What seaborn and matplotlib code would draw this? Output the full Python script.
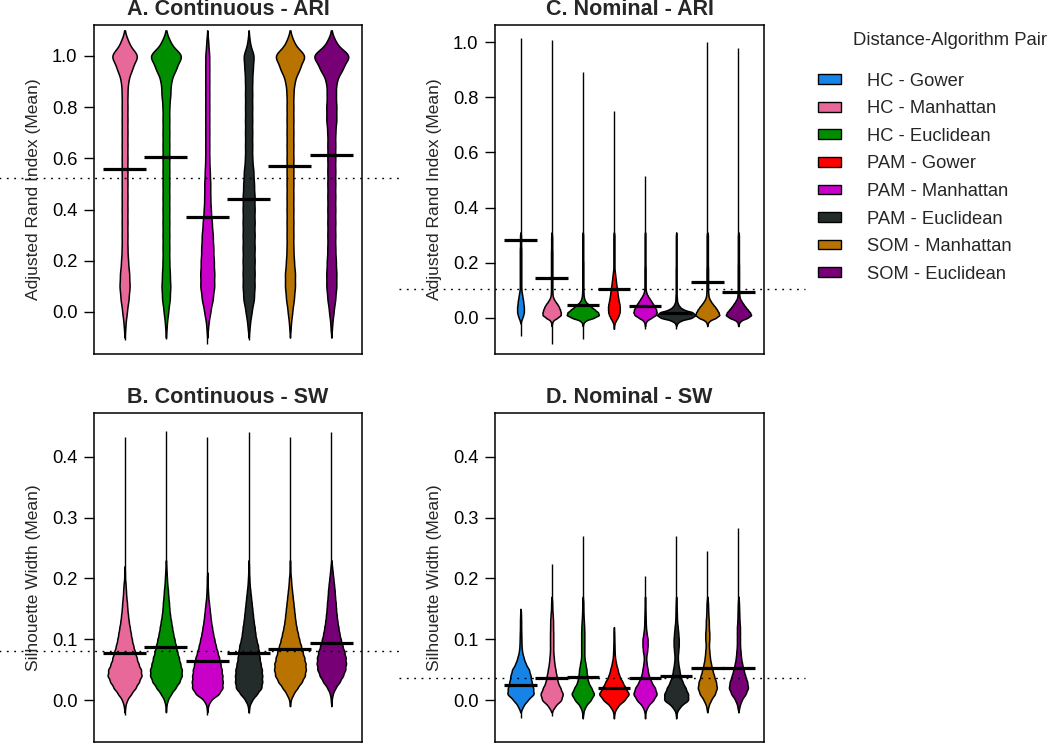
import numpy as np
import pandas as pd
import matplotlib
matplotlib.use("Agg")
import matplotlib.pyplot as plt
from matplotlib.patches import Patch
import seaborn as sns

# distance-algorithm pairs and their fill colours
PAIRS = ["HC - Gower", "HC - Manhattan", "HC - Euclidean", "PAM - Gower",
         "PAM - Manhattan", "PAM - Euclidean", "SOM - Manhattan", "SOM - Euclidean"]
CONT_PAIRS = ["HC - Manhattan", "HC - Euclidean", "PAM - Manhattan",
              "PAM - Euclidean", "SOM - Manhattan", "SOM - Euclidean"]
COLORS = {"HC - Gower": "#1683E6", "HC - Manhattan": "#E8689A", "HC - Euclidean": "#008E00",
          "PAM - Gower": "#FF0000", "PAM - Manhattan": "#C800C8", "PAM - Euclidean": "#232B2B",
          "SOM - Manhattan": "#B87300", "SOM - Euclidean": "#780076"}

# A. Continuous - ARI : value levels and how many results sit at each level (one row per pair)
A_LEVELS = [-0.10, -0.05, 0.00, 0.05, 0.10, 0.15, 0.20, 0.25, 0.30, 0.35, 0.40, 0.45,
            0.50, 0.55, 0.60, 0.65, 0.70, 0.75, 0.80, 0.85, 0.90, 0.95, 1.00, 1.05]
A_COUNTS = [
    [0, 3, 8, 14, 18, 16, 12, 10, 10, 10, 10, 10, 10, 10, 10, 10, 10, 10, 10, 10, 12, 26, 48, 14],
    [0, 3, 8, 14, 16, 14, 12, 12, 12, 12, 12, 12, 12, 12, 12, 12, 12, 12, 12, 16, 18, 36, 60, 16],
    [0, 4, 12, 22, 28, 28, 26, 24, 22, 18, 14, 12, 12, 10, 8, 8, 8, 8, 8, 8, 8, 8, 8, 4],
    [0, 4, 10, 18, 20, 20, 20, 20, 20, 20, 20, 20, 18, 16, 12, 12, 12, 12, 12, 12, 12, 14, 18, 4],
    [0, 3, 8, 14, 18, 18, 14, 12, 12, 12, 12, 12, 12, 12, 12, 12, 12, 12, 12, 12, 16, 34, 56, 14],
    [0, 3, 8, 14, 18, 18, 16, 14, 14, 14, 14, 14, 14, 14, 14, 14, 14, 18, 18, 16, 18, 40, 68, 16],
]
A_PEAK = [0.59, 0.72, 0.34, 0.29, 0.68, 0.82]   # widest point of each violin
A_MEANS = [0.559, 0.604, 0.370, 0.443, 0.571, 0.612]
A_LO = [-0.111, -0.105, -0.124, -0.108, -0.078, -0.078]
A_HI = [1.068, 1.068, 1.070, 1.070, 1.068, 1.068]
A_REF = 0.525

# B. Continuous - SW
B_LEVELS = [-0.01, 0.00, 0.01, 0.02, 0.03, 0.04, 0.05, 0.06, 0.07, 0.08, 0.09, 0.10,
            0.11, 0.12, 0.13, 0.14, 0.15, 0.16, 0.17, 0.18, 0.19, 0.20, 0.21, 0.22]
B_COUNTS = [
    [2, 7, 19, 32, 42, 50, 48, 40, 35, 30, 25, 21, 18, 15, 12, 10, 8, 7, 5, 4, 3, 1, 1, 0],
    [1, 5, 15, 28, 40, 47, 47, 42, 38, 33, 29, 25, 21, 18, 15, 12, 10, 9, 7, 6, 4, 3, 2, 1],
    [2, 10, 35, 46, 46, 45, 43, 39, 35, 30, 25, 21, 17, 14, 11, 9, 7, 5, 3, 2, 1, 1, 0, 0],
    [2, 10, 25, 39, 41, 41, 40, 36, 33, 31, 28, 23, 20, 18, 15, 13, 11, 9, 7, 5, 3, 2, 1, 1],
    [0, 2, 10, 22, 35, 44, 47, 46, 42, 37, 32, 27, 23, 19, 16, 14, 12, 10, 8, 6, 4, 3, 1, 1],
    [0, 1, 4, 12, 25, 35, 42, 44, 43, 39, 33, 28, 24, 21, 18, 16, 14, 13, 11, 10, 8, 6, 4, 2],
]
B_PEAK = [0.82, 0.77, 0.75, 0.66, 0.77, 0.71]
B_MEANS = [0.077, 0.088, 0.064, 0.077, 0.084, 0.094]
B_LO = [-0.025, -0.018, -0.025, -0.021, -0.010, -0.005]
B_HI = [0.433, 0.443, 0.432, 0.441, 0.432, 0.441]
B_REF = 0.0805

# C. Nominal - ARI
C_LEVELS = [-0.03, -0.02, -0.01, 0.00, 0.01, 0.02, 0.03, 0.04, 0.05, 0.06, 0.07, 0.08,
            0.09, 0.10, 0.11, 0.12, 0.13, 0.14, 0.15, 0.16, 0.17, 0.18, 0.19, 0.20,
            0.21, 0.22, 0.23, 0.24, 0.25, 0.26, 0.27, 0.28, 0.29, 0.30]
C_COUNTS = [
    [0, 0, 3, 8, 12, 15, 15, 15, 13, 12, 10, 8, 6, 4, 3, 3, 3, 3, 3, 3, 3,
     3, 3, 3, 3, 3, 3, 3, 3, 2, 2, 2, 2, 2],
    [0, 2, 8, 35, 58, 57, 52, 45, 35, 22, 12, 6, 5, 4, 4, 4, 4, 4, 4, 4, 4,
     4, 4, 4, 4, 4, 4, 4, 3, 3, 3, 3, 3, 2],
    [0, 3, 15, 65, 97, 90, 70, 50, 30, 15, 8, 5, 4, 3, 3, 3, 3, 3, 3, 3, 3,
     3, 3, 3, 2, 2, 2, 2, 2, 2, 2, 2, 2, 2],
    [1, 4, 12, 22, 30, 35, 36, 36, 34, 30, 27, 24, 22, 20, 18, 15, 13, 11, 9, 7, 5,
     3, 3, 3, 3, 3, 3, 3, 3, 3, 3, 3, 3, 3],
    [0, 2, 10, 35, 60, 66, 62, 55, 45, 35, 25, 15, 8, 4, 3, 3, 3, 3, 3, 3, 3,
     3, 2, 2, 2, 2, 2, 2, 2, 2, 2, 2, 2, 2],
    [0, 5, 25, 90, 112, 95, 40, 20, 10, 5, 4, 3, 2, 2, 2, 2, 2, 2, 2, 2, 2,
     2, 1, 1, 1, 1, 1, 1, 1, 1, 1, 1, 1, 1],
    [0, 2, 12, 45, 64, 58, 50, 40, 28, 18, 10, 6, 5, 4, 4, 4, 4, 4, 4, 4, 4,
     4, 3, 3, 3, 3, 3, 3, 3, 3, 3, 3, 3, 3],
    [0, 3, 15, 60, 85, 75, 60, 45, 32, 20, 10, 6, 5, 4, 4, 4, 4, 4, 4, 4, 4,
     4, 4, 3, 3, 3, 3, 3, 3, 3, 3, 3, 3, 3],
]
C_PEAK = [0.22, 0.59, 1.03, 0.38, 0.75, 1.23, 0.77, 0.81]
C_MEANS = [0.283, 0.143, 0.046, 0.103, 0.044, 0.016, 0.131, 0.094]
C_LO = [-0.067, -0.094, -0.075, -0.030, -0.039, -0.041, -0.027, -0.030]
C_HI = [1.015, 1.006, 0.893, 0.751, 0.516, 0.301, 1.002, 0.978]
C_REF = 0.106

# D. Nominal - SW
D_LEVELS = [-0.02, -0.01, 0.00, 0.01, 0.02, 0.03, 0.04, 0.05, 0.06, 0.07, 0.08, 0.09,
            0.10, 0.11, 0.12, 0.13, 0.14, 0.15, 0.16]
D_COUNTS = [
    [0, 15, 42, 81, 75, 66, 60, 51, 30, 18, 9, 6, 5, 4, 3, 3, 2, 0, 0],
    [0, 18, 54, 63, 48, 33, 27, 21, 15, 12, 9, 9, 9, 9, 8, 8, 6, 3, 3],
    [3, 15, 45, 66, 48, 30, 24, 21, 15, 9, 9, 9, 9, 9, 8, 6, 4, 3, 3],
    [3, 21, 60, 87, 66, 48, 30, 21, 12, 6, 4, 3, 2, 1, 0, 0, 0, 0, 0],
    [2, 15, 48, 69, 57, 36, 21, 15, 9, 6, 12, 15, 15, 9, 5, 4, 3, 2, 1],
    [3, 24, 72, 69, 54, 36, 24, 18, 12, 9, 12, 15, 15, 12, 9, 5, 4, 3, 2],
    [0, 6, 21, 45, 57, 51, 39, 30, 21, 15, 12, 9, 12, 12, 9, 9, 6, 5, 4],
    [0, 6, 18, 42, 57, 51, 39, 30, 21, 15, 12, 9, 9, 9, 9, 6, 5, 4, 3],
]
D_PEAK = [0.84, 0.71, 0.71, 0.94, 0.74, 0.77, 0.61, 0.61]
D_MEANS = [0.025, 0.036, 0.038, 0.020, 0.036, 0.039, 0.053, 0.053]
D_LO = [-0.029, -0.026, -0.025, -0.019, -0.022, -0.022, -0.018, -0.017]
D_HI = [0.147, 0.223, 0.270, 0.114, 0.204, 0.270, 0.245, 0.283]
D_REF = 0.037

ARI_TICKS = [0.0, 0.2, 0.4, 0.6, 0.8, 1.0]
SW_TICKS = [0.0, 0.1, 0.2, 0.3, 0.4]


def build_frame(groups, levels, counts):
    parts = []
    for name, row in zip(groups, counts):
        parts.append(pd.DataFrame({"pair": name, "value": np.repeat(levels, row)}))
    return pd.concat(parts, ignore_index=True)


def draw_panel(ax, title, ylabel, groups, levels, counts, peaks, means, lo, hi, ref,
               ylim, yticks, bw):
    df = build_frame(groups, levels, counts)
    pos = np.arange(len(groups))

    # range line behind each violin
    ax.vlines(pos, lo, hi, color="black", lw=1.0, zorder=0.5)

    # one violin per call so each keeps its own peak width
    for name, peak in zip(groups, peaks):
        sns.violinplot(data=df[df["pair"] == name], x="pair", y="value", order=groups,
                       color=COLORS[name], saturation=1, density_norm="width",
                       inner=None, cut=2, gridsize=300,
                       bw_method=lambda k, b=bw: b / np.std(k.dataset, ddof=1),
                       width=peak, linewidth=1.1, linecolor="black", ax=ax)

    # mean bars and overall reference line
    ax.hlines(means, pos - 0.52, pos + 0.52, color="black", lw=2.3, zorder=5)
    ax.axhline(ref, xmin=-0.355, xmax=1.153, color="black", lw=1.0,
               ls=(0, (1.3, 4)), clip_on=False, zorder=6)

    n = len(groups)
    pad = 0.04 * n
    ax.set_xlim(-0.5 - pad, n - 0.5 + pad)
    ax.set_ylim(*ylim)
    ax.set_yticks(yticks)
    ax.set_yticklabels([f"{t:.1f}" for t in yticks])
    ax.tick_params(axis="y", left=True, direction="out", length=7, width=1, pad=5,
                   labelsize=13.2, colors="black")
    ax.tick_params(axis="x", bottom=False, labelbottom=False)
    ax.set_xlabel("")
    ax.set_ylabel(ylabel, fontsize=12.5, labelpad=8)
    ax.set_title(title, fontsize=15.5, fontweight="bold", pad=7)
    for s in ax.spines.values():
        s.set_visible(True)
        s.set_color("black")
        s.set_linewidth(1.1)


sns.set_theme(style="white")
plt.rcParams["font.family"] = ["Liberation Sans", "DejaVu Sans"]

fig = plt.figure(figsize=(10.5, 7.43), dpi=100)
ax_a = fig.add_axes([0.0895, 0.5236, 0.2552, 0.4428])
ax_c = fig.add_axes([0.4714, 0.5236, 0.2562, 0.4428])
ax_b = fig.add_axes([0.0895, 0.0013, 0.2552, 0.4428])
ax_d = fig.add_axes([0.4714, 0.0013, 0.2562, 0.4428])

draw_panel(ax_a, "A. Continuous - ARI", "Adjusted Rand Index (Mean)", CONT_PAIRS,
           A_LEVELS, A_COUNTS, A_PEAK, A_MEANS, A_LO, A_HI, A_REF, (-0.164, 1.121),
           ARI_TICKS, 0.025)
draw_panel(ax_b, "B. Continuous - SW", "Silhouette Width (Mean)", CONT_PAIRS,
           B_LEVELS, B_COUNTS, B_PEAK, B_MEANS, B_LO, B_HI, B_REF, (-0.069, 0.472),
           SW_TICKS, 0.005)
draw_panel(ax_c, "C. Nominal - ARI", "Adjusted Rand Index (Mean)", PAIRS,
           C_LEVELS, C_COUNTS, C_PEAK, C_MEANS, C_LO, C_HI, C_REF, (-0.131, 1.062),
           ARI_TICKS, 0.005)
draw_panel(ax_d, "D. Nominal - SW", "Silhouette Width (Mean)", PAIRS,
           D_LEVELS, D_COUNTS, D_PEAK, D_MEANS, D_LO, D_HI, D_REF, (-0.069, 0.472),
           SW_TICKS, 0.005)

handles = [Patch(facecolor=COLORS[p], edgecolor="black", lw=1, label=p) for p in PAIRS]
fig.legend(handles=handles, loc="upper left", bbox_to_anchor=(0.779, 0.902),
           frameon=False, fontsize=13.2, handlelength=1.25, handleheight=0.45,
           handletextpad=1.45, labelspacing=0.575, borderaxespad=0, borderpad=0)
fig.text(0.8124, 0.946, "Distance-Algorithm Pair", ha="left", va="center", fontsize=13.3)

fig.savefig("out.png", dpi=100)
plt.close(fig)
